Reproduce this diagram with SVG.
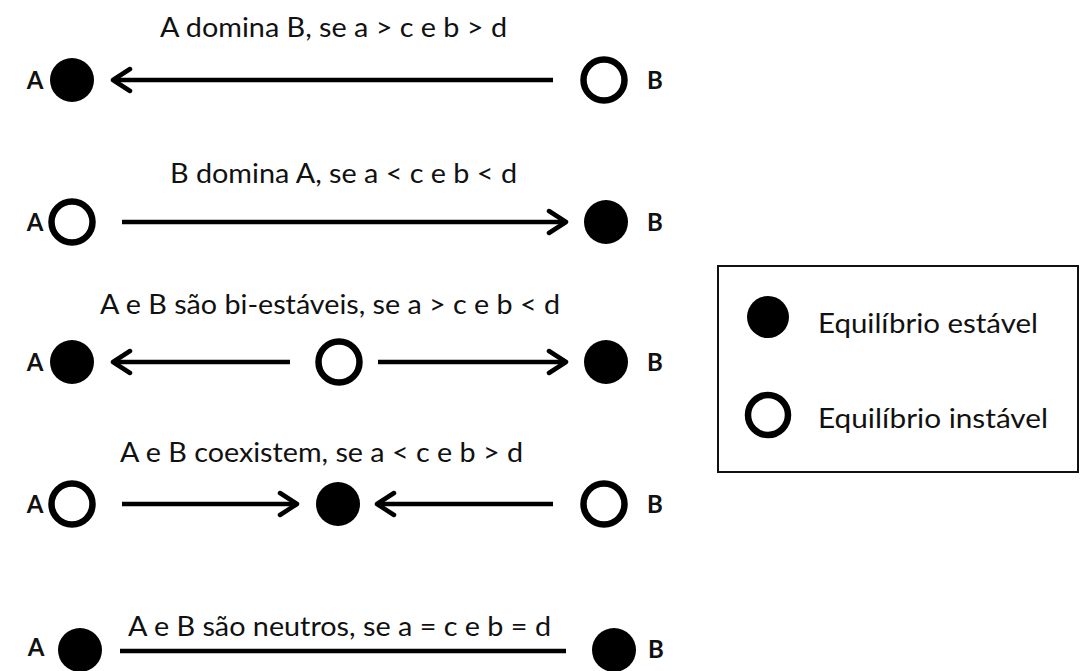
<svg xmlns="http://www.w3.org/2000/svg" width="1081" height="671" viewBox="0 0 1081 671">
  <style>
    .title { font-family: Lato, "Open Sans", "Liberation Sans", sans-serif; font-size: 26px; fill: #111; }
    .lab { font-family: Lato, "Liberation Sans", sans-serif; font-size: 24px; font-weight: bold; fill: #111; }
    .leg { font-family: Lato, "Open Sans", "Liberation Sans", sans-serif; font-size: 26px; fill: #111; }
    .stable { fill: #000; }
    .unstable { fill: none; stroke: #000; stroke-width: 6.5; }
    .conn { stroke: #000; stroke-width: 4.5; fill: none; }
    .arrow { marker-end: url(#head); }
  </style>
  <defs>
    <marker id="head" viewBox="-20 -14 24 28" refX="0" refY="0" markerWidth="24" markerHeight="28" markerUnits="userSpaceOnUse" orient="auto">
      <path d="M -17 -11 L 0 0 L -17 11" fill="none" stroke="#000" stroke-width="4.5" stroke-linejoin="round" stroke-linecap="round"/>
    </marker>
  </defs>
  <rect width="1081" height="671" fill="#fff"/>

  <!-- titles of each case -->
  <g id="titles">
    <text class="title" x="160" y="37" textLength="347" lengthAdjust="spacingAndGlyphs">A domina B, se a &gt; c e b &gt; d</text>
    <text class="title" x="170" y="183" textLength="347" lengthAdjust="spacingAndGlyphs">B domina A, se a &lt; c e b &lt; d</text>
    <text class="title" x="100" y="314" textLength="460" lengthAdjust="spacingAndGlyphs">A e B são bi-estáveis, se a &gt; c e b &lt; d</text>
    <text class="title" x="120" y="462" textLength="403" lengthAdjust="spacingAndGlyphs">A e B coexistem, se a &lt; c e b &gt; d</text>
    <text class="title" x="128" y="636" textLength="423" lengthAdjust="spacingAndGlyphs">A e B são neutros, se a = c e b = d</text>
  </g>

  <!-- end labels -->
  <g id="labels">
    <text class="lab" x="35" y="89" text-anchor="middle">A</text>
    <text class="lab" x="655" y="89" text-anchor="middle">B</text>
    <text class="lab" x="35" y="231" text-anchor="middle">A</text>
    <text class="lab" x="655" y="231" text-anchor="middle">B</text>
    <text class="lab" x="35" y="371" text-anchor="middle">A</text>
    <text class="lab" x="655" y="371" text-anchor="middle">B</text>
    <text class="lab" x="35" y="513" text-anchor="middle">A</text>
    <text class="lab" x="655" y="513" text-anchor="middle">B</text>
    <text class="lab" x="36" y="656" text-anchor="middle">A</text>
    <text class="lab" x="656" y="658" text-anchor="middle">B</text>
  </g>

  <!-- connectors -->
  <g id="connectors">
    <line class="conn arrow" x1="553" y1="80" x2="113" y2="80"/>
    <line class="conn arrow" x1="122" y1="222" x2="566" y2="222"/>
    <line class="conn arrow" x1="290" y1="362" x2="113" y2="362"/>
    <line class="conn arrow" x1="378" y1="362" x2="566" y2="362"/>
    <line class="conn arrow" x1="122" y1="504" x2="297" y2="504"/>
    <line class="conn arrow" x1="553" y1="504" x2="377" y2="504"/>
    <line class="conn" x1="120" y1="651" x2="566" y2="651"/>
  </g>

  <!-- equilibrium points -->
  <g id="row1-A"><circle class="stable" cx="72" cy="80" r="22"/></g>
  <g id="row1-B"><circle class="unstable" cx="604" cy="80" r="20.5"/></g>
  <g id="row2-A"><circle class="unstable" cx="72" cy="222" r="20.5"/></g>
  <g id="row2-B"><circle class="stable" cx="606" cy="222" r="22"/></g>
  <g id="row3-A"><circle class="stable" cx="72" cy="362" r="22"/></g>
  <g id="row3-mid"><circle class="unstable" cx="339" cy="362" r="20.5"/></g>
  <g id="row3-B"><circle class="stable" cx="606" cy="362" r="22"/></g>
  <g id="row4-A"><circle class="unstable" cx="72" cy="504" r="20.5"/></g>
  <g id="row4-mid"><circle class="stable" cx="338" cy="504" r="22"/></g>
  <g id="row4-B"><circle class="unstable" cx="604" cy="504" r="20.5"/></g>
  <g id="row5-A"><circle class="stable" cx="80" cy="650" r="22"/></g>
  <g id="row5-B"><circle class="stable" cx="614" cy="650" r="22"/></g>

  <!-- legend -->
  <g id="legend">
    <rect x="718" y="266" width="360" height="206" fill="#fff" stroke="#111" stroke-width="2"/>
    <circle class="stable" cx="768" cy="317" r="21"/>
    <text class="leg" x="818" y="333" textLength="220" lengthAdjust="spacingAndGlyphs">Equilíbrio estável</text>
    <circle class="unstable" cx="768" cy="415" r="20"/>
    <text class="leg" x="818" y="428" textLength="230" lengthAdjust="spacingAndGlyphs">Equilíbrio instável</text>
  </g>
</svg>
